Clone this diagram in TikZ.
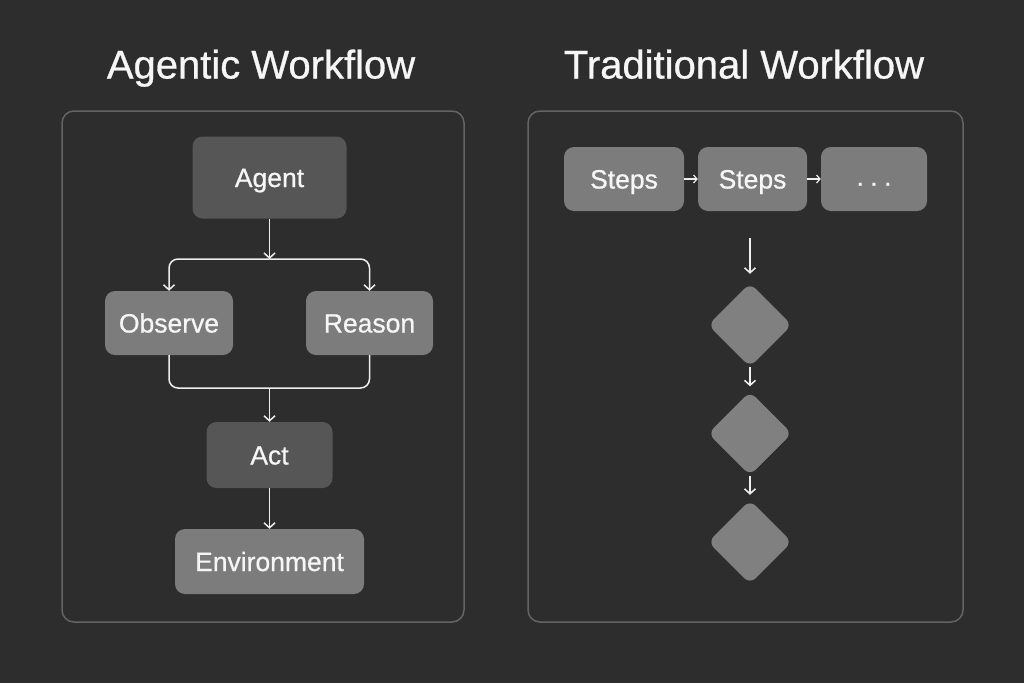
\documentclass[tikz,border=0pt]{standalone}
\usepackage{fontspec}
\setmainfont{Liberation Sans}
\newfontfamily\medfont{Liberation Sans}[FakeBold=0.7]
\usetikzlibrary{shapes.geometric,arrows.meta}
\definecolor{bgc}{HTML}{2D2D2D}
\definecolor{panelc}{HTML}{646464}
\definecolor{darkbox}{HTML}{565656}
\definecolor{lightbox}{HTML}{7C7C7C}
\definecolor{diamc}{HTML}{808080}
\definecolor{linec}{HTML}{EEEEEE}
\definecolor{textc}{HTML}{F6F6F6}
\tikzset{
  panel/.style={draw=panelc, line width=1.5pt, rounded corners=12pt},
  boxbase/.style={rectangle, rounded corners=10pt, text=textc, font=\medfont\fontsize{26.5}{30}\selectfont, inner sep=0pt, text height=19pt, text depth=-2pt},
  darknode/.style={boxbase, fill=darkbox},
  lightnode/.style={boxbase, fill=lightbox},
  diam/.style={diamond, fill=diamc, rounded corners=8pt, minimum width=84pt, minimum height=84pt, inner sep=0pt},
  arr/.style={draw=linec, line width=1.5pt, -{Straight Barb[length=5pt,width=11pt,line width=1.5pt]}},
  smallarr/.style={draw=linec, line width=1.2pt, -{Straight Barb[length=3.5pt,width=8pt,line width=1.2pt]}},
  conn/.style={draw=linec, line width=1.5pt, rounded corners=9pt},
  title/.style={text=textc, font=\medfont\fontsize{40}{46}\selectfont, text height=29pt, text depth=0pt, inner sep=0pt}
}
\begin{document}
\begin{tikzpicture}[x=1pt,y=-1pt]
\fill[bgc] (0,0) rectangle (1024,683);
\useasboundingbox (0,0) rectangle (1024,683);

% titles
\node[title] (t1) at (261,64) {Agentic Workflow};
\node[title] (t2) at (744,64) {Traditional Workflow};

% panels
\draw[panel] (62,111) rectangle (464,622);
\draw[panel] (528,111) rectangle (963,622);

% left nodes
\node[darknode, minimum width=154pt, minimum height=82pt] (agent) at (269.5,177.5) {Agent};
\node[lightnode, minimum width=128pt, minimum height=64pt] (obs) at (169,323) {Observe};
\node[lightnode, minimum width=127pt, minimum height=64pt] (rea) at (369.5,323) {Reason};
\node[darknode, minimum width=126pt, minimum height=66pt] (act) at (269.5,455) {Act};
\node[lightnode, minimum width=189pt, minimum height=65pt] (env) at (269.5,561.5) {Environment};

\coordinate (split) at (269.5,259);
\coordinate (merge) at (269.5,388);

\draw[arr] (agent.south) -- (split);
\draw[arr, rounded corners=9pt] (split) -| (obs.north);
\draw[arr, rounded corners=9pt] (split) -| (rea.north);
\draw[conn] (obs.south) |- (merge) -| (rea.south);
\draw[arr] (merge) -- (act.north);
\draw[arr] (act.south) -- (env.north);

% right nodes
\node[lightnode, minimum width=120pt, minimum height=64pt] (s1) at (624,179) {Steps};
\node[lightnode, minimum width=109pt, minimum height=64pt] (s2) at (752.5,179) {Steps};
\node[lightnode, minimum width=106pt, minimum height=64pt] (s3) at (874,179) {\raisebox{-3pt}{·\hspace{5pt}·\hspace{5pt}·}};

\draw[smallarr] (s1.east) -- (s2.west);
\draw[smallarr] (s2.east) -- (s3.west);

\coordinate (vstart) at (750,238);
\node[diam] (d1) at (750,325) {};
\node[diam] (d2) at (750,433.5) {};
\node[diam] (d3) at (750,542) {};

\draw[arr, shorten >=9pt] (vstart) -- (d1.north);
\draw[arr, shorten >=5pt] (d1.south) -- (d2.north);
\draw[arr, shorten >=5pt] (d2.south) -- (d3.north);
\end{tikzpicture}
\end{document}
